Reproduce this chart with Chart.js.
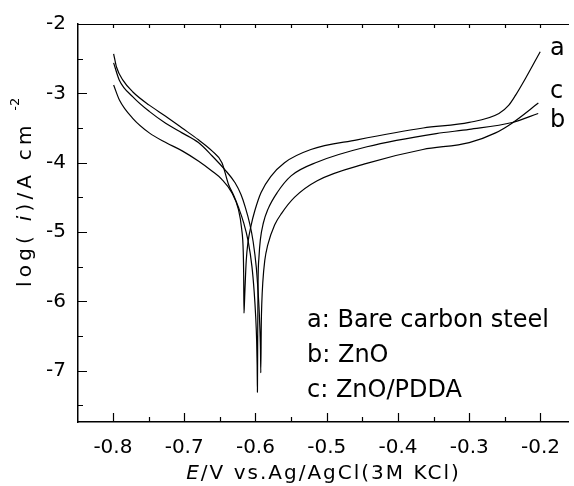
<!DOCTYPE html>
<html>
<head>
<meta charset="utf-8">
<script src="https://cdn.jsdelivr.net/npm/chart.js@4.4.1/dist/chart.umd.min.js"></script>
<style>
  html, body { margin: 0; padding: 0; background: #fff; }
  #wrap { width: 574px; height: 486px; }
</style>
</head>
<body>
<div id="wrap"><canvas id="tafel" width="574" height="486"></canvas></div>
<script>
// --- data (E in V, log i) ---
const potA = [-0.799, -0.7907, -0.7722, -0.749, -0.7258, -0.7028, -0.6796, -0.6611, -0.6472, -0.6333, -0.624, -0.6194, -0.6171, -0.6165, -0.6161,
              -0.6156, -0.6147, -0.6129, -0.6106, -0.606, -0.6008, -0.5921, -0.5786, -0.5592, -0.5222, -0.4574, -0.3647, -0.300, -0.2583, -0.2444, -0.2351, -0.2213, -0.2004];
const logA = [-2.88, -3.10, -3.36, -3.57, -3.71, -3.83, -3.98, -4.12, -4.24, -4.43, -4.67, -4.95, -5.29, -5.63, -6.17,
              -6.07, -5.83, -5.41, -5.16, -4.90, -4.69, -4.43, -4.20, -4.00, -3.81, -3.67, -3.50, -3.42, -3.29, -3.17, -3.03, -2.79, -2.40];

const potB = [-0.799, -0.795, -0.786, -0.772, -0.749, -0.726, -0.703, -0.680, -0.661, -0.647, -0.6379, -0.6306, -0.624, -0.6167, -0.6101, -0.6049, -0.6018, -0.5997, -0.5983, -0.5976, -0.5972,
              -0.5968, -0.5963, -0.5951, -0.5931, -0.5889, -0.5824, -0.5694, -0.550, -0.5129, -0.4435, -0.3463, -0.300, -0.2397, -0.2032];
const logB = [-2.43, -2.62, -2.81, -2.98, -3.17, -3.33, -3.50, -3.67, -3.83, -4.00, -4.31, -4.47, -4.64, -4.86, -5.14, -5.50, -5.86, -6.21, -6.57, -6.93, -7.31,
              -6.43, -5.71, -5.37, -5.11, -4.87, -4.67, -4.43, -4.19, -3.99, -3.77, -3.58, -3.52, -3.42, -3.29];

const potC = [-0.799, -0.791, -0.772, -0.749, -0.726, -0.703, -0.680, -0.661, -0.643, -0.6286, -0.6203, -0.6143, -0.6078, -0.6032, -0.5988, -0.5963, -0.5946, -0.5935, -0.5929, -0.5925,
              -0.5918, -0.5911, -0.5897, -0.5869, -0.5828, -0.5731, -0.5633, -0.5453, -0.5133, -0.4439, -0.365, -0.300, -0.263, -0.240, -0.203];
const logC = [-2.56, -2.81, -3.05, -3.26, -3.43, -3.57, -3.71, -3.90, -4.10, -4.29, -4.46, -4.64, -4.89, -5.14, -5.51, -5.86, -6.17, -6.47, -6.71, -7.03,
              -6.33, -6.03, -5.73, -5.41, -5.19, -4.90, -4.73, -4.50, -4.26, -4.01, -3.81, -3.71, -3.57, -3.43, -3.14];

const xTicks = [-0.8, -0.7, -0.6, -0.5, -0.4, -0.3, -0.2];
const yTicks = [-7, -6, -5, -4, -3, -2];
const curveTags = ['a', 'b', 'c'];
const legendLines = ['a: Bare carbon steel', 'b: ZnO', 'c: ZnO/PDDA'];

const FONT = '"DejaVu Sans", "Liberation Sans", Arial, sans-serif';

function toPoints(xs, ys) {
    return xs.map((x, i) => ({ x: x, y: ys[i] }));
}

// draws a run of text pieces (italic / superscript) one after another
function drawRich(ctx, parts, x, y, align) {
    let total = 0;
    const widths = parts.map(p => {
        ctx.font = (p.italic ? 'italic ' : '') + p.size + 'px ' + FONT;
        ctx.letterSpacing = (p.sp || 0) + 'px';
        const w = ctx.measureText(p.t).width;
        total += w;
        return w;
    });
    let cx = align === 'center' ? x - total / 2 : x;
    parts.forEach((p, i) => {
        ctx.font = (p.italic ? 'italic ' : '') + p.size + 'px ' + FONT;
        ctx.letterSpacing = (p.sp || 0) + 'px';
        ctx.fillText(p.t, cx, y + (p.dy || 0));
        cx += widths[i];
    });
    ctx.letterSpacing = '0px';
}

const framePlugin = {
    id: 'frame',
    afterDraw(chart) {
        const ctx = chart.ctx;
        const xs = chart.scales.x, ys = chart.scales.y;
        const area = chart.chartArea;
        ctx.save();
        ctx.strokeStyle = '#000';
        ctx.fillStyle = '#000';

        // top edge of the frame
        ctx.lineWidth = 1.2;
        ctx.beginPath();
        ctx.moveTo(area.left, area.top + 0.5);
        ctx.lineTo(area.right, area.top + 0.5);
        ctx.stroke();

        // inward ticks, minor every 0.05 V / 0.5 decade
        ctx.beginPath();
        for (let i = 0; i <= 12; i++) {
            const v = -0.8 + i * 0.05;
            const px = Math.round(xs.getPixelForValue(v)) + 0.5;
            const len = i % 2 === 0 ? 9 : 5;
            ctx.moveTo(px, area.bottom);
            ctx.lineTo(px, area.bottom - len);
            ctx.moveTo(px, area.top);
            ctx.lineTo(px, area.top + 4);
        }
        for (let i = 0; i <= 11; i++) {
            const v = -7.5 + i * 0.5;
            const py = Math.round(ys.getPixelForValue(v)) + 0.5;
            const len = i % 2 === 1 ? 9 : 5;
            ctx.moveTo(area.left, py);
            ctx.lineTo(area.left + len, py);
        }
        ctx.stroke();

        ctx.textBaseline = 'alphabetic';
        ctx.textAlign = 'left';

        // x axis title
        drawRich(ctx, [
            { t: 'E', italic: true, size: 20, sp: 2 },
            { t: '/V vs.Ag/AgCl(3M KCl)', size: 20, sp: 2 }
        ], (area.left + area.right) / 2, 479, 'center');

        // y axis title, rotated
        ctx.save();
        ctx.translate(31, 287);
        ctx.rotate(-Math.PI / 2);
        drawRich(ctx, [
            { t: 'log( ', size: 20, sp: 4.2 },
            { t: 'i', italic: true, size: 20, sp: 4.2 },
            { t: ')/A cm ', size: 20, sp: 4.2 },
            { t: '-2', size: 13, dy: -12 }
        ], 0, 0, 'left');
        ctx.restore();

        // curve tags at the right-hand ends
        const tagY = { a: 55, c: 98, b: 127 };
        ctx.font = '24px ' + FONT;
        curveTags.forEach(t => ctx.fillText(t, 550, tagY[t]));

        // legend block
        ctx.font = '24px ' + FONT;
        legendLines.forEach((line, i) => ctx.fillText(line, 307, 327 + i * 35));
        ctx.restore();
    }
};

const lineStyle = {
    showLine: true,
    borderColor: '#000',
    borderWidth: 1.2,
    pointRadius: 0,
    fill: false,
    cubicInterpolationMode: 'monotone'
};

new Chart(document.getElementById('tafel'), {
    type: 'scatter',
    data: {
        datasets: [
            Object.assign({ label: curveTags[0], data: toPoints(potA, logA) }, lineStyle),
            Object.assign({ label: curveTags[1], data: toPoints(potB, logB) }, lineStyle),
            Object.assign({ label: curveTags[2], data: toPoints(potC, logC) }, lineStyle)
        ]
    },
    options: {
        responsive: false,
        animation: false,
        devicePixelRatio: 1,
        layout: { padding: { top: 20, right: 0, bottom: 0, left: 0 } },
        plugins: { legend: { display: false }, tooltip: { enabled: false } },
        scales: {
            x: {
                type: 'linear',
                min: -0.849,
                max: -0.16,
                grid: { display: false, drawTicks: false },
                border: { display: true, color: '#000', width: 1.5 },
                ticks: {
                    color: '#000',
                    font: { family: FONT, size: 20 },
                    padding: 14,
                    maxRotation: 0,
                    callback: v => v.toFixed(1)
                },
                afterBuildTicks: s => { s.ticks = xTicks.map(v => ({ value: v })); },
                afterFit: s => { s.height = 64; }
            },
            y: {
                type: 'linear',
                min: -7.74,
                max: -2,
                grid: { display: false, drawTicks: false },
                border: { display: true, color: '#000', width: 1.5 },
                ticks: {
                    color: '#000',
                    font: { family: FONT, size: 20 },
                    padding: 12,
                    callback: v => String(v)
                },
                afterBuildTicks: s => { s.ticks = yTicks.map(v => ({ value: v })); },
                afterFit: s => { s.width = 78; }
            }
        }
    },
    plugins: [framePlugin]
});
</script>
</body>
</html>
